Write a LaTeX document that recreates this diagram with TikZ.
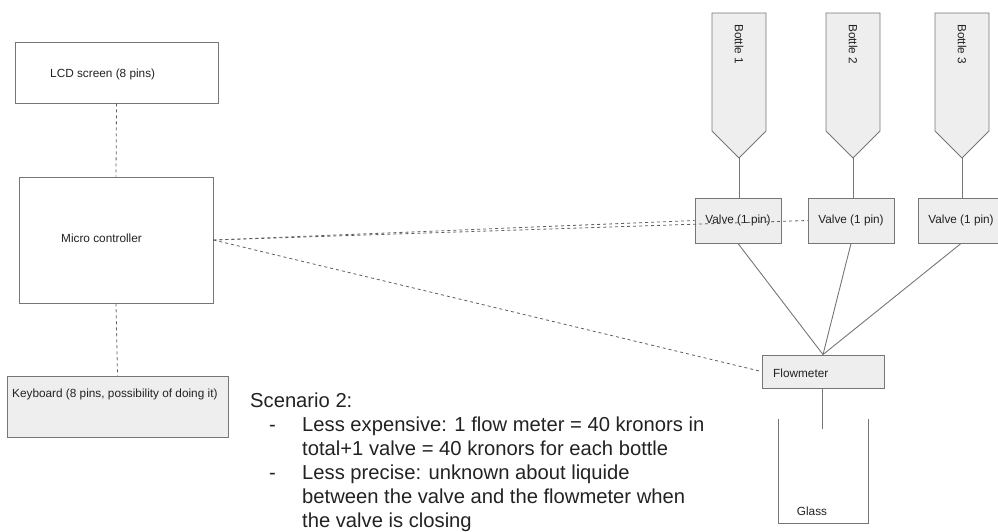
\documentclass[tikz,border=0pt]{standalone}
\usepackage{fontspec}
\setmainfont{Liberation Sans}
\definecolor{edge}{HTML}{767676}
\definecolor{dashgray}{HTML}{5E5E5E}
\definecolor{boxfill}{HTML}{EEEEEE}
\definecolor{ink}{HTML}{222222}
\begin{document}
\begin{tikzpicture}[x=1pt,y=-1pt,
  box/.style={draw=edge, line width=0.9pt, fill=#1, inner sep=0pt},
  box/.default=white,
  lbl/.style={text=ink, font=\fontsize{11.8}{14}\selectfont, inner sep=0pt},
  wire/.style={draw=edge, line width=0.9pt},
  signal/.style={draw=dashgray, line width=0.8pt, dash pattern=on 3pt off 3pt}
]
\useasboundingbox (0,0) rectangle (998,531);

% control side
\node[box, minimum width=203pt, minimum height=61pt] (lcd) at (116.5,72.5) {};
\node[lbl, anchor=west] (lcdtxt) at (50,74) {LCD screen (8 pins)};
\node[box, minimum width=194pt, minimum height=126pt] (mc) at (116,240) {};
\node[lbl, anchor=west] (mctxt) at (61,238) {Micro controller};
\node[box=boxfill, minimum width=221pt, minimum height=61pt] (kb) at (117.5,406.5) {};
\node[lbl, anchor=west] (kbtxt) at (12,394) {Keyboard (8 pins, possibility of doing it)};

\draw[signal] (lcd.south) -- (mc.north);
\draw[signal] (mc.south) -- (kb.north);

% bottles
\foreach \i/\l/\r in {1/712/766, 2/826/880, 3/935/989}{
  \coordinate (tip\i) at ({(\l+\r)/2},158);
  \draw[wire, fill=boxfill] (\l,13) -- (\r,13) -- (\r,131) -- (tip\i) -- (\l,131) -- cycle;
  \node[lbl, rotate=-90, anchor=west] (btxt\i) at ({(\l+\r)/2},24) {Bottle \i};
}

% valves
\node[box=boxfill, minimum width=86pt, minimum height=45pt] (v1) at (738,220.5) {};
\node[box=boxfill, minimum width=86pt, minimum height=45pt] (v2) at (851,220.5) {};
\node[box=boxfill, minimum width=86pt, minimum height=45pt] (v3) at (961,220.5) {};
\foreach \v in {1,2,3}{
  \node[lbl] (vt\v) at (v\v) {Valve (1 pin)};
  \draw[wire] (tip\v) -- (tip\v |- v\v.north);
}

% flow meter and glass
\node[box=boxfill, minimum width=122pt, minimum height=33pt] (fm) at (823,371.5) {};
\node[lbl, anchor=west] (fmtxt) at (773,373) {Flowmeter};
\draw[wire] (v1.south) -- (fm.north);
\draw[wire] (v2.south) -- (fm.north);
\draw[wire] (v3.south) -- (fm.north);
\coordinate (spout) at (822,429);
\draw[wire] (fm.south -| spout) -- (spout);
\coordinate (glassL) at (778,419);
\coordinate (glassR) at (868,419);
\draw[wire] (glassL) -- (778,523) -- (868,523) -- (glassR);
\node[lbl] (glasstxt) at (812,511) {Glass};

% signal lines from the controller
\draw[signal] (mc.east) -- (v1.west);
\draw[signal] (mc.east) -- (v2.west);
\draw[signal] (mc.east) -- (fm.west);

% notes
\node[anchor=north west, inner sep=0pt, text=ink] (notes) at (250,390.2) {%
  \fontsize{20.2}{24}\selectfont
  \begin{tabular}{@{}l@{}l@{}}
  \multicolumn{2}{@{}l@{}}{Scenario 2:}\\
  \makebox[52pt][l]{\hspace{19pt}-} & Less expensive: 1 flow meter = 40 kronors in\\
   & total+1 valve = 40 kronors for each bottle\\
  \makebox[52pt][l]{\hspace{19pt}-} & Less precise: unknown about liquide\\
   & between the valve and the flowmeter when\\
   & the valve is closing
  \end{tabular}};
\end{tikzpicture}
\end{document}
